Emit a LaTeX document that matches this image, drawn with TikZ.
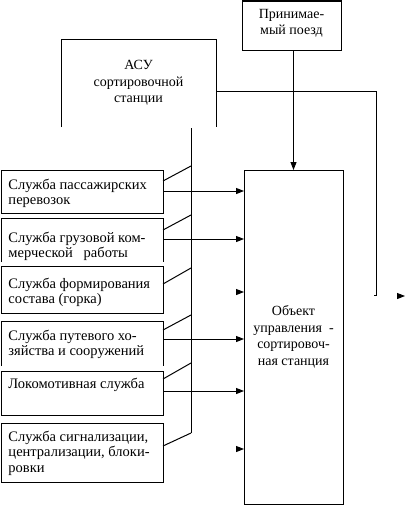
\documentclass[tikz,border=0pt]{standalone}
\usepackage{fontspec}
\setmainfont{Liberation Serif}
\usetikzlibrary{arrows.meta,calc}
\begin{document}
\begin{tikzpicture}[x=1pt,y=-1pt, line width=1pt,
  frame/.style={rectangle, inner sep=0pt, outer sep=0pt, anchor=north west},
  ltxt/.style={inner sep=0pt, font=\fontsize{14.5}{15.5}\selectfont, align=left, anchor=north west},
  ctxt/.style={inner sep=0pt, font=\fontsize{14}{16.5}\selectfont, align=center},
  arr/.style={-{Triangle[length=8pt,width=6pt]}},
]
\useasboundingbox (0,0) rectangle (406,506);

% left service boxes
\node[frame, draw, minimum width=162pt, minimum height=43pt] (s1) at (1,170) {};
\node[frame, minimum width=162pt, minimum height=44pt] (s2) at (1,218) {};
\node[frame, draw, minimum width=162pt, minimum height=47pt] (s3) at (1,266) {};
\node[frame, minimum width=162pt, minimum height=45pt] (s4) at (1,321) {};
\node[frame, draw, minimum width=162pt, minimum height=44pt] (s5) at (1,371) {};
\node[frame, draw, minimum width=162pt, minimum height=59pt] (s6) at (1,423) {};
\draw (s2.south west) -- (s2.north west) -- (s2.north east) -- (s2.south east);
\draw (s4.south west) -- (s4.north west) -- (s4.north east) -- (s4.south east);

\node[ltxt] (l1) at (8,178.5) {Служба пассажирских\\перевозок};
\node[ltxt] (l2) at (8,231.5) {Служба грузовой ком-\\мерческой\ \ \ работы};
\node[ltxt] (l3) at (8,277.5) {Служба формирования\\состава (горка)};
\node[ltxt] (l4) at (8,329.5) {Служба путевого хо-\\зяйства и сооружений};
\node[ltxt] (l5) at (8,377.5) {Локомотивная служба};
\node[ltxt] (l6) at (8,430.5) {Служба сигнализации,\\централизации, блоки-\\ровки};

% ASU (open at the bottom)
\node[frame, minimum width=155pt, minimum height=88pt] (asu) at (61,39) {};
\draw (asu.south west) -- (asu.north west) -- (asu.north east) -- (asu.south east);
\node[ctxt] (asut) at (asu.center) {АСУ\\сортировочной\\станции};

% arriving train
\node[frame, draw, minimum width=99pt, minimum height=49pt] (train) at (242,1) {};
\node[ctxt] (traint) at ($(train.center)+(0,-2)$) {Принимае-\\мый поезд};

% object of control
\node[frame, draw, minimum width=99pt, minimum height=334pt] (obj) at (244,170) {};
\node[ctxt] (objt) at (obj.center) {Объект\\управления\ \ -\\сортировоч-\\ная станция};

% bus from ASU
\coordinate (bustop) at (191,128);
\coordinate (busbot) at (191,433);
\draw (bustop) -- (busbot);
\coordinate (b1) at (191,166);
\coordinate (b2) at (191,215);
\coordinate (b3) at (191,268);
\coordinate (b4) at (191,315);
\coordinate (b5) at (191,363);
\draw (s1.east |- 0,181) -- (b1);
\draw (s2.east |- 0,230) -- (b2);
\draw (s3.east |- 0,284) -- (b3);
\draw (s4.east |- 0,330) -- (b4);
\draw (s5.east |- 0,379) -- (b5);
\draw (s6.east |- 0,446) -- (busbot);

% arrows into the object
\draw[arr] (s1.east |- 0,191) -- (obj.west |- 0,191);
\draw[arr] (s2.east |- 0,239) -- (obj.west |- 0,239);
\draw[arr] (236,292) -- (obj.west |- 0,292);
\draw[arr] (s4.east |- 0,339) -- (obj.west |- 0,339);
\draw[arr] (s5.east |- 0,391) -- (obj.west |- 0,391);
\draw[arr] (236,449) -- (obj.west |- 0,449);

% train into object
\draw[arr] (obj.north |- train.south) -- (obj.north);

% ASU output line on the right
\coordinate (rc) at (376,91);
\coordinate (rb) at (376,295);
\coordinate (rh) at (374,295);
\draw (asu.east |- rc) -- (rc) -- (rb) -- (rh);
\coordinate (outs) at (397,296);
\coordinate (oute) at (405,296);
\draw[arr] (outs) -- (oute);
\end{tikzpicture}
\end{document}
